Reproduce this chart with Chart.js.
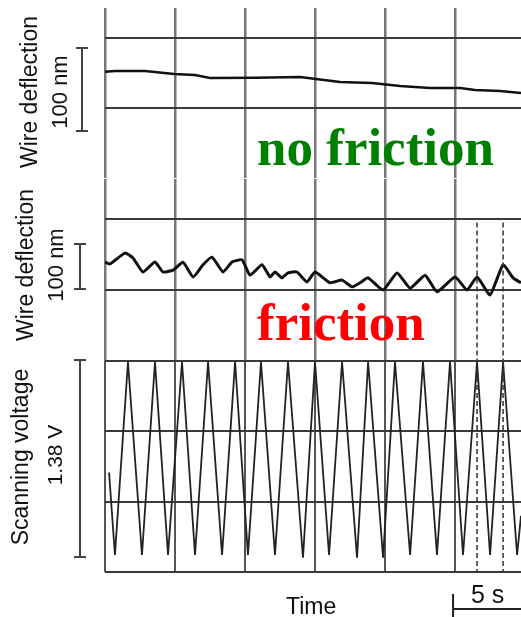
<!DOCTYPE html>
<html>
<head>
<meta charset="utf-8">
<script src="https://cdn.jsdelivr.net/npm/chart.js@4.4.1/dist/chart.umd.min.js"></script>
<style>
  html, body { margin: 0; padding: 0; background: #fff; }
  #wrap { position: relative; width: 521px; height: 617px; overflow: hidden; }
  #wrap canvas { position: absolute; left: 0; }
</style>
</head>
<body>
<div id="wrap">
  <canvas id="topChart" width="521" height="185" style="top:0px"></canvas>
  <canvas id="midChart" width="521" height="190" style="top:175px"></canvas>
  <canvas id="scanChart" width="521" height="262" style="top:355px"></canvas>
</div>
<script>
// time axis (s), grid every 5 s
const timeTicks = [0, 5, 10, 15, 20, 25];
const timeMax = 29.71;

// no friction: wire deflection (nm)
const topT = [0, 0.71, 2.86, 4.93, 6.43, 7.5, 10.71, 13.93, 15.07, 16.79, 19.07, 21.07, 23.21, 25.36, 26.43, 28.21, 29.71];
const topNm = [43.7, 44.6, 44.6, 41.0, 39.8, 36.1, 36.5, 37.3, 34.9, 31.3, 30.1, 26.5, 24.1, 24.1, 21.7, 20.5, 18.1];
const topGrid = [0, 84.3];

// friction: wire deflection (nm)
const midT = [0, 0.36, 1.43, 2.0, 2.71, 3.57, 4.14, 4.86, 5.57, 6.29, 7.0, 7.64, 8.43, 9.07, 9.79,
  10.36, 11.21, 11.79, 12.14, 12.64, 13.07, 13.71, 14.43, 15.0, 16.07, 16.93, 17.64, 18.21, 18.79, 19.86,
  20.86, 21.79, 22.86, 23.71, 25.0, 25.86, 26.57, 27.5, 28.43, 29.14, 29.71];
const midNm = [62, 58, 82, 71, 40, 62, 40, 44, 62, 29, 56, 73, 40, 62, 67,
  33, 56, 29, 40, 27, 38, 40, 18, 40, 16, 22, 7, 16, 27, 0,
  38, 4, 33, -4, 29, 0, 29, -11, 56, 27, 16];
const midGrid = [0, 157.8];

// scanning voltage (V)
const scanT = [0.29, 0.71, 1.64, 2.64, 3.57, 4.5, 5.5, 6.43, 7.36, 8.36, 9.29, 10.21, 11.14, 12.14, 13.07,
  14.14, 15.0, 16.0, 16.93, 18.0, 18.79, 19.86, 20.71, 21.79, 22.71, 23.71, 24.64, 25.57, 26.57, 27.5,
  28.43, 29.43, 29.71];
const scanV = [0.59, 0, 1.38, 0, 1.38, 0, 1.38, 0, 1.38, 0, 1.38, 0, 1.38, 0, 1.38,
  -0.02, 1.38, 0, 1.38, -0.02, 1.38, -0.02, 1.38, 0, 1.38, 0, 1.38, 0, 1.38, 0,
  1.38, 0, 0.28];
const scanGrid = [-0.12, 0.38, 0.886, 1.387];

// dashed marker times
const markT = [26.57, 28.43];

const pts = (xs, ys) => xs.map((x, i) => ({ x: x, y: ys[i] }));

// rotated / plain labels, given in page coordinates
function labelPlugin(offsetY, labels) {
  return {
    id: 'labels',
    afterDraw(chart) {
      const ctx = chart.ctx;
      labels.forEach(l => {
        ctx.save();
        ctx.fillStyle = l.color || '#111';
        ctx.font = l.font;
        ctx.textBaseline = 'alphabetic';
        if (l.rot) {
          ctx.translate(l.x, l.y - offsetY);
          ctx.rotate(-Math.PI / 2);
          ctx.textAlign = 'center';
          ctx.fillText(l.text, 0, 0);
        } else {
          ctx.textAlign = 'left';
          ctx.fillText(l.text, l.x, l.y - offsetY);
        }
        ctx.restore();
      });
    }
  };
}

// vertical scale bar built from the y scale
function barPlugin(from, to, x) {
  return {
    id: 'bar',
    afterDraw(chart) {
      const y = chart.scales.y, ctx = chart.ctx;
      const y0 = y.getPixelForValue(from), y1 = y.getPixelForValue(to);
      ctx.save();
      ctx.strokeStyle = '#444';
      ctx.lineWidth = 2;
      ctx.beginPath();
      ctx.moveTo(x, y0); ctx.lineTo(x, y1);
      ctx.moveTo(x - 6, y0); ctx.lineTo(x + 6, y0);
      ctx.moveTo(x - 6, y1); ctx.lineTo(x + 6, y1);
      ctx.stroke();
      ctx.restore();
    }
  };
}

function dashPlugin(fromVal) {
  return {
    id: 'dash',
    afterDatasetsDraw(chart) {
      const xs = chart.scales.x, ys = chart.scales.y, ctx = chart.ctx;
      const top = fromVal === null ? chart.chartArea.top : ys.getPixelForValue(fromVal);
      ctx.save();
      ctx.strokeStyle = '#333';
      ctx.lineWidth = 1.5;
      ctx.setLineDash([5, 3]);
      markT.forEach(t => {
        const px = xs.getPixelForValue(t);
        ctx.beginPath();
        ctx.moveTo(px, top);
        ctx.lineTo(px, chart.chartArea.bottom);
        ctx.stroke();
      });
      ctx.restore();
    }
  };
}

const timeBar = {
  id: 'timeBar',
  afterDraw(chart) {
    const xs = chart.scales.x, ctx = chart.ctx;
    const x0 = xs.getPixelForValue(25) - 2, x1 = xs.getPixelForValue(30);
    ctx.save();
    ctx.strokeStyle = '#222';
    ctx.lineWidth = 2;
    ctx.beginPath();
    ctx.moveTo(x0, 254); ctx.lineTo(x1, 254);
    ctx.moveTo(x0, 239); ctx.lineTo(x0, 262);
    ctx.stroke();
    ctx.restore();
  }
};

function makeOptions(yMin, yMax, yGrid, pad, xColor, xWidth) {
  return {
    responsive: false,
    animation: false,
    layout: { padding: pad },
    plugins: { legend: { display: false }, tooltip: { enabled: false } },
    scales: {
      x: {
        type: 'linear', min: 0, max: timeMax,
        afterBuildTicks: s => { s.ticks = timeTicks.map(v => ({ value: v })); },
        afterFit: s => { s.height = 0; },
        ticks: { display: false },
        border: { display: false },
        grid: { color: xColor, lineWidth: xWidth, drawTicks: false }
      },
      y: {
        min: yMin, max: yMax,
        afterBuildTicks: s => { s.ticks = yGrid.map(v => ({ value: v })); },
        afterFit: s => { s.width = 0; },
        ticks: { display: false },
        border: { display: false },
        grid: { color: '#3a3a3a', lineWidth: 2, drawTicks: false }
      }
    }
  };
}

const sans = '"Liberation Sans", Arial, sans-serif';
const serif = 'bold 53px "Liberation Serif", "Times New Roman", serif';

new Chart(document.getElementById('topChart'), {
  type: 'line',
  data: {
    datasets: [{
      data: pts(topT, topNm),
      borderColor: '#111', borderWidth: 2.5, pointRadius: 0, tension: 0
    }]
  },
  options: makeOptions(-84.3, 120.5, topGrid, { left: 105, right: 0, top: 8, bottom: 7 }, '#777', 2.5),
  plugins: [
    barPlugin(-27.7, 72.3, 82),
    labelPlugin(0, [
      { text: 'Wire deflection', x: 37, y: 92, rot: true, font: '23px ' + sans },
      { text: '100 nm', x: 67, y: 92, rot: true, font: '22px ' + sans },
      { text: 'no friction', x: 257, y: 165, font: serif, color: '#008000' }
    ])
  ]
});

new Chart(document.getElementById('midChart'), {
  type: 'line',
  data: {
    datasets: [{
      data: pts(midT, midNm),
      borderColor: '#111', borderWidth: 3, pointRadius: 0, tension: 0.15
    }]
  },
  options: makeOptions(-157.8, 246.7, midGrid, { left: 105, right: 0, top: 4, bottom: 4 }, '#777', 2.5),
  plugins: [
    dashPlugin(150),
    barPlugin(2, 102, 80),
    labelPlugin(175, [
      { text: 'Wire deflection', x: 33, y: 265, rot: true, font: '23px ' + sans },
      { text: '100 nm', x: 63, y: 265, rot: true, font: '22px ' + sans },
      { text: 'friction', x: 257, y: 340, font: serif, color: '#ff0000' }
    ])
  ]
});

new Chart(document.getElementById('scanChart'), {
  type: 'line',
  data: {
    datasets: [{
      data: pts(scanT, scanV),
      borderColor: '#222', borderWidth: 1.8, pointRadius: 0, tension: 0
    }]
  },
  options: makeOptions(-0.1215, 1.387, scanGrid, { left: 105, right: 0, top: 6, bottom: 45 }, '#555', 2),
  plugins: [
    dashPlugin(null),
    barPlugin(-0.015, 1.395, 80),
    timeBar,
    labelPlugin(355, [
      { text: 'Scanning voltage', x: 28, y: 457, rot: true, font: '23px ' + sans },
      { text: '1.38 V', x: 62, y: 455, rot: true, font: '21px ' + sans },
      { text: 'Time', x: 286, y: 614, font: '23px ' + sans },
      { text: '5 s', x: 471, y: 603, font: '25px ' + sans }
    ])
  ]
});
</script>
</body>
</html>
